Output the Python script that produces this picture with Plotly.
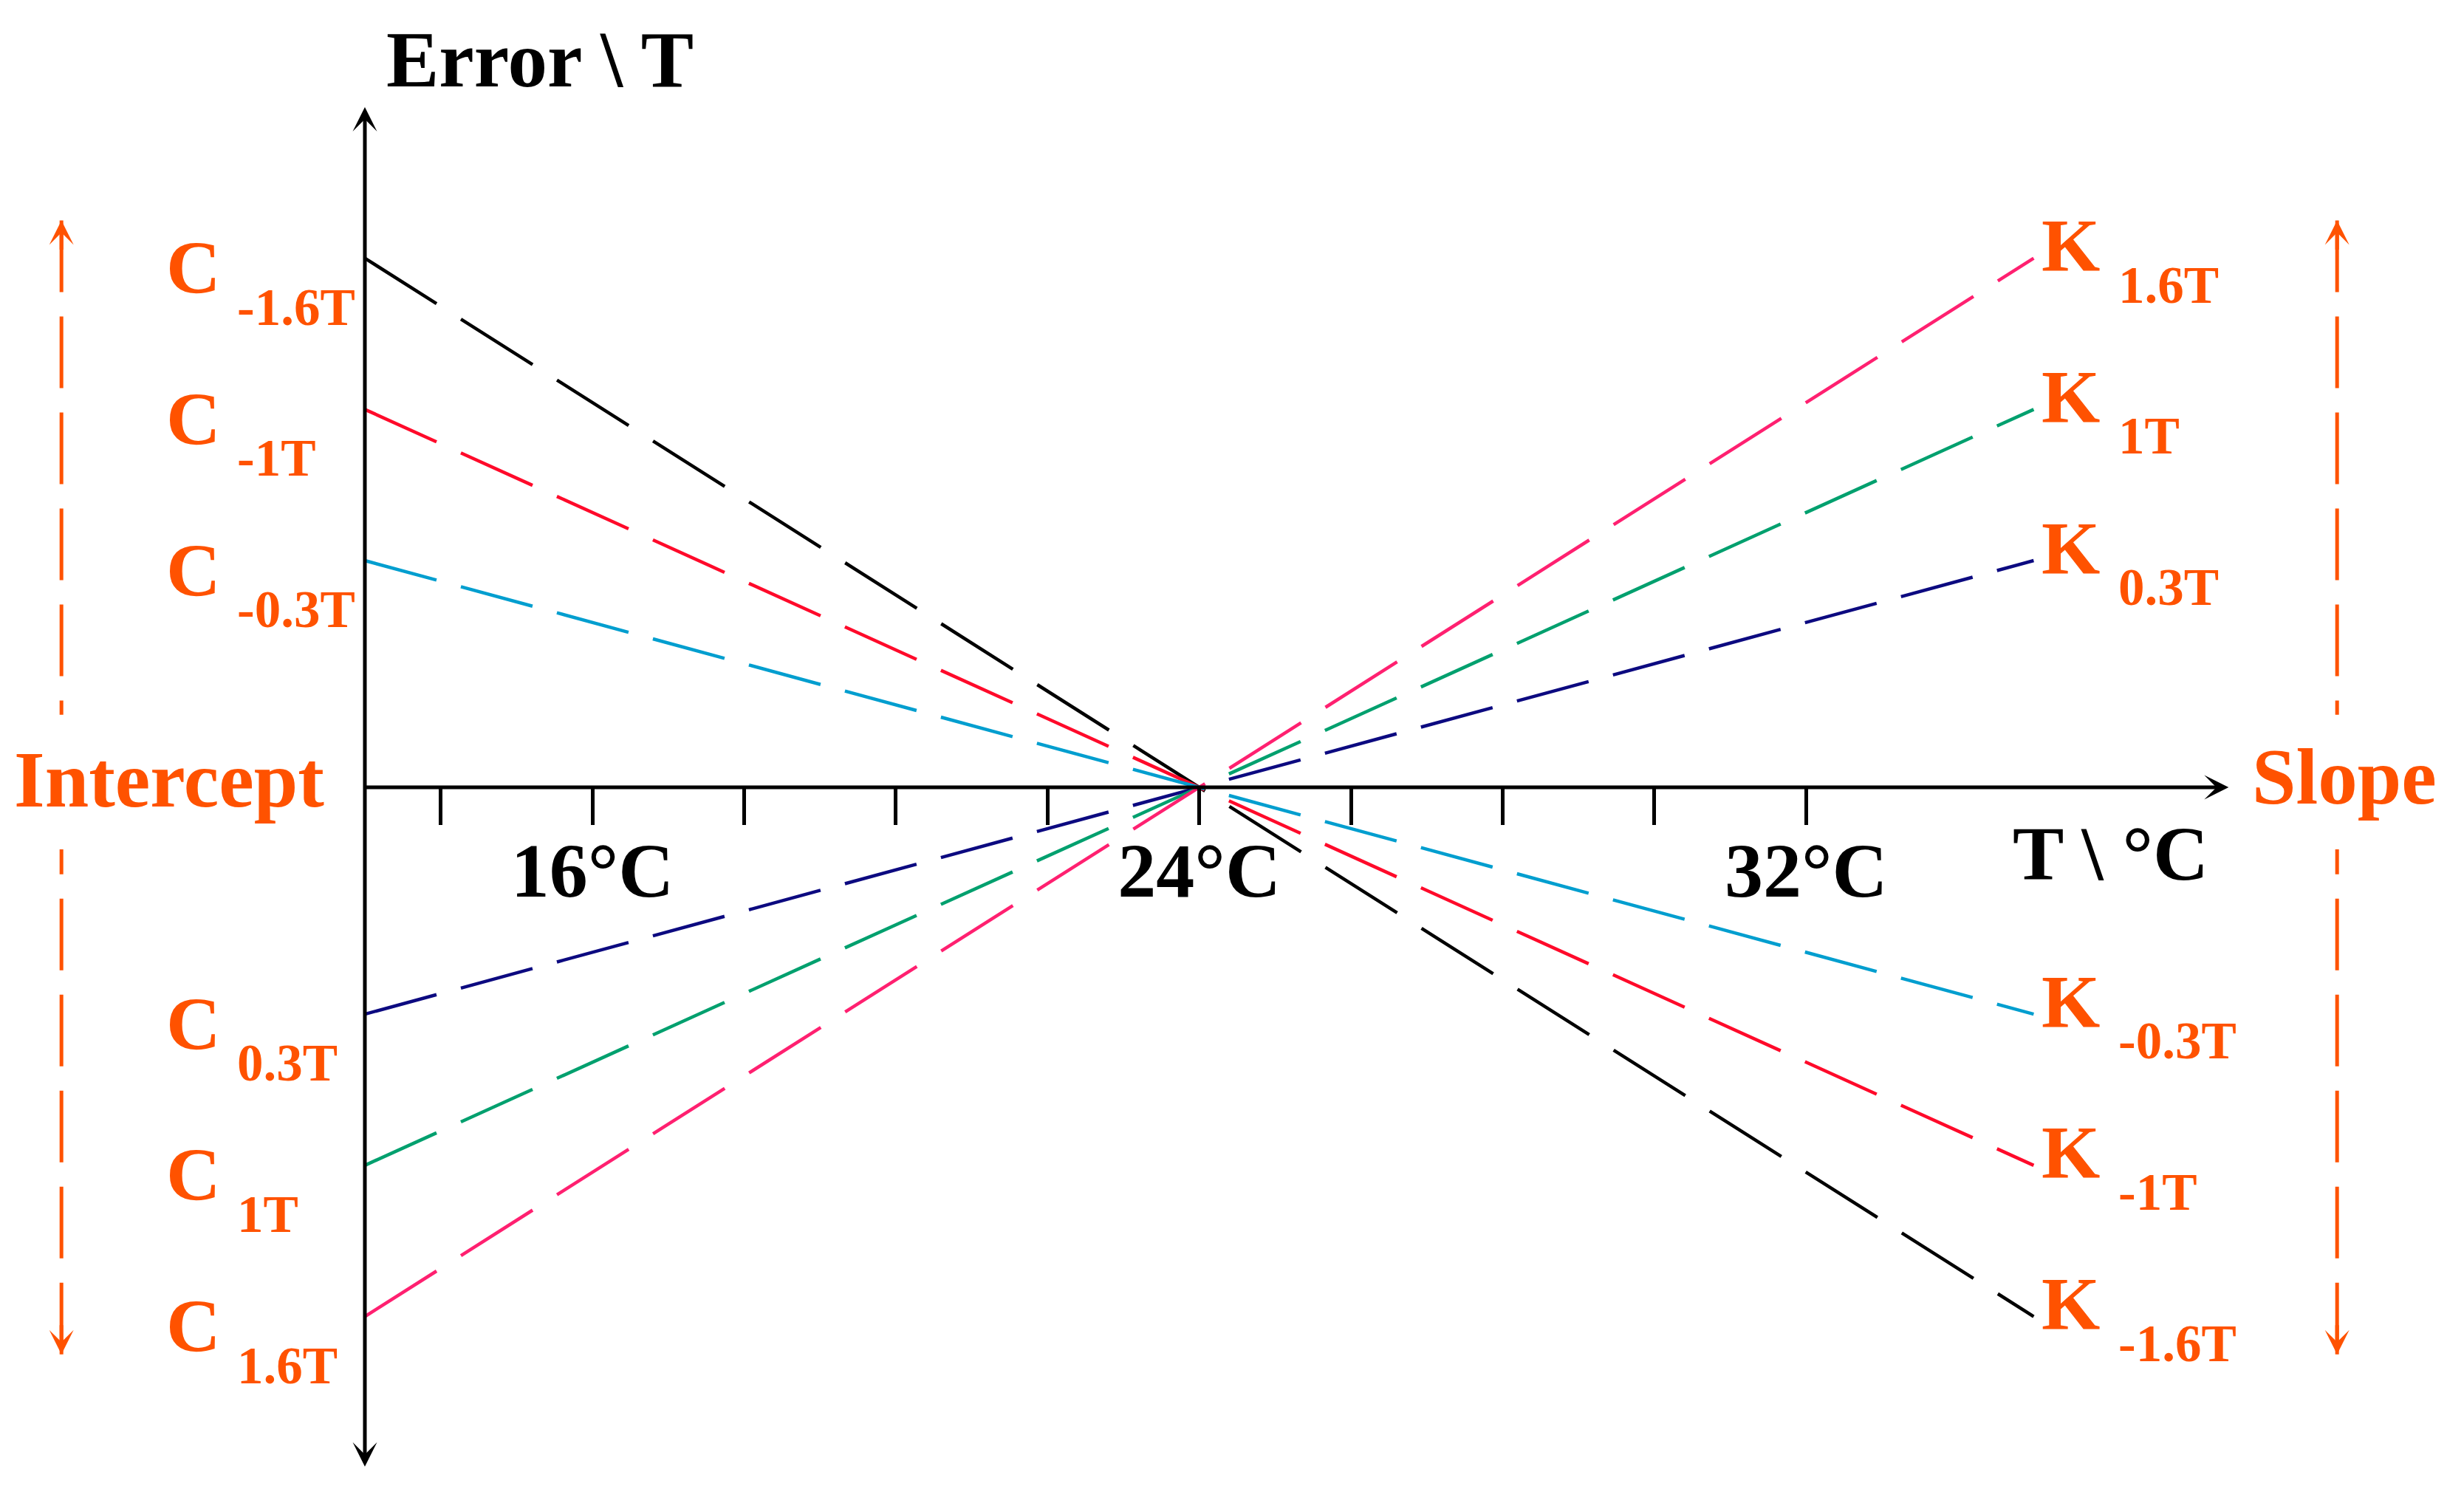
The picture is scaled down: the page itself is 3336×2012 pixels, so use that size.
import math
import plotly.graph_objects as go

# ---------------- data ----------------
T_START, T_CENTER, T_END = 13, 24, 35            # °C
series_names = ["-1.6T", "-1T", "-0.3T", "0.3T", "1T", "1.6T"]
error_at_start = [3.5, 2.5, 1.5, -1.5, -2.5, -3.5]   # intercept side (C)
error_at_end = [-3.5, -2.5, -1.5, 1.5, 2.5, 3.5]     # slope side (K)
error_at_center = [0, 0, 0, 0, 0, 0]
series_colors = ["#000000", "#FF0A2A", "#009ECF", "#0C0A80", "#00A06E", "#FF2070"]
tick_vals = [14, 16, 18, 20, 22, 24, 26, 28, 30, 32]
tick_text = ["", "16°C", "", "", "", "24°C", "", "", "", "32°C"]

# ---------------- layout constants ----------------
W, H = 3336, 2012
X_RANGE = [8.19, 40.673]
Y_RANGE = [-4.621, 5.208]
PX_PER_X = W / (X_RANGE[1] - X_RANGE[0])
PX_PER_Y = H / (Y_RANGE[1] - Y_RANGE[0])
ORANGE = "#FF5200"
FONT = "Liberation Serif"
DASH_H, GAP_H = 97, 33   # dash/gap measured along the horizontal projection

fig = go.Figure()

for name, y0, yc, y1, col in zip(series_names, error_at_start, error_at_center,
                                 error_at_end, series_colors):
    slope_px = (y1 - y0) / (T_END - T_START) * PX_PER_Y / PX_PER_X
    f = math.sqrt(1 + slope_px ** 2)
    fig.add_trace(go.Scatter(
        x=[T_START, T_CENTER, T_END], y=[y0, yc, y1], mode="lines", name=name,
        line=dict(color=col, width=4.5, dash=f"{DASH_H*f:.1f}px,{GAP_H*f:.1f}px"),
        hoverinfo="skip", showlegend=False))

annotations = []

# axes drawn as arrows
annotations.append(dict(x=37.57, y=0, ax=T_START, ay=0, xref="x", yref="y", axref="x", ayref="y",
                        text="", showarrow=True, arrowhead=3, arrowsize=1.1, arrowwidth=5,
                        arrowcolor="black"))
annotations.append(dict(x=T_START, y=4.5, ax=T_START, ay=-4.5, xref="x", yref="y", axref="x",
                        ayref="y", text="", showarrow=True, arrowhead=3, arrowsize=1.1,
                        arrowwidth=5, arrowcolor="black", arrowside="end+start"))

# orange dashed arrows
shapes = []
for xo in (9, 39):
    shapes.append(dict(type="line", xref="x", yref="y", x0=xo, x1=xo, y0=3.75, y1=0.48,
                       line=dict(color=ORANGE, width=5, dash="97px,33px")))
    shapes.append(dict(type="line", xref="x", yref="y", x0=xo, x1=xo, y0=-3.75, y1=-0.41,
                       line=dict(color=ORANGE, width=5, dash="97px,33px")))
    for yt, yb in ((3.75, 3.55), (-3.75, -3.55)):
        annotations.append(dict(x=xo, y=yt, ax=xo, ay=yb, xref="x", yref="y", axref="x",
                                ayref="y", text="", showarrow=True, arrowhead=3,
                                arrowsize=1.1, arrowwidth=5, arrowcolor=ORANGE))

def txt(text, x, y, size, color, xanchor="left", xshift=0, yshift=0):
    return dict(x=x, y=y, xref="x", yref="y", text=text, showarrow=False,
                xanchor=xanchor, yanchor="middle", xshift=xshift, yshift=yshift,
                font=dict(family=FONT, size=size, color=color, weight="bold"))

# C / K labels
for name, y0, y1 in zip(series_names, error_at_start, error_at_end):
    annotations.append(txt("C", T_START, y0, 102, ORANGE, xshift=-271, yshift=-13))
    annotations.append(txt(name, T_START, y0, 71, ORANGE, xshift=-175, yshift=-66))
    annotations.append(txt("K", T_END, y1, 102, ORANGE, xshift=9, yshift=17))
    annotations.append(txt(name, T_END, y1, 71, ORANGE, xshift=113, yshift=-36))

annotations.append(txt("Intercept", X_RANGE[0], 0.05, 107, ORANGE, xshift=17))
annotations.append(txt("Slope", 39, 0.07, 107, ORANGE, xanchor="center", xshift=10))
annotations.append(txt("Error \\ T", T_START, 4.81, 107, "black", xshift=27))
annotations.append(txt("T \\ °C", 34.70, -0.435, 104, "black"))

pos0 = (0 - Y_RANGE[0]) / (Y_RANGE[1] - Y_RANGE[0])

fig.update_layout(
    width=W, height=H, margin=dict(l=0, r=0, t=0, b=0),
    paper_bgcolor="white", plot_bgcolor="white",
    xaxis=dict(range=X_RANGE, anchor="free", position=pos0, showline=False,
               showgrid=False, zeroline=False, ticks="outside", ticklen=50,
               tickwidth=5, tickcolor="black", tickmode="array", tickvals=tick_vals,
               ticktext=tick_text, ticklabelstandoff=-28,
               tickfont=dict(family=FONT, size=104, color="black", weight="bold")),
    yaxis=dict(range=Y_RANGE, visible=False),
    shapes=shapes, annotations=annotations, showlegend=False,
)

fig.write_html("out.html", config={"displayModeBar": False},
               post_script="document.body.style.margin='0';document.body.style.overflow='hidden';")
